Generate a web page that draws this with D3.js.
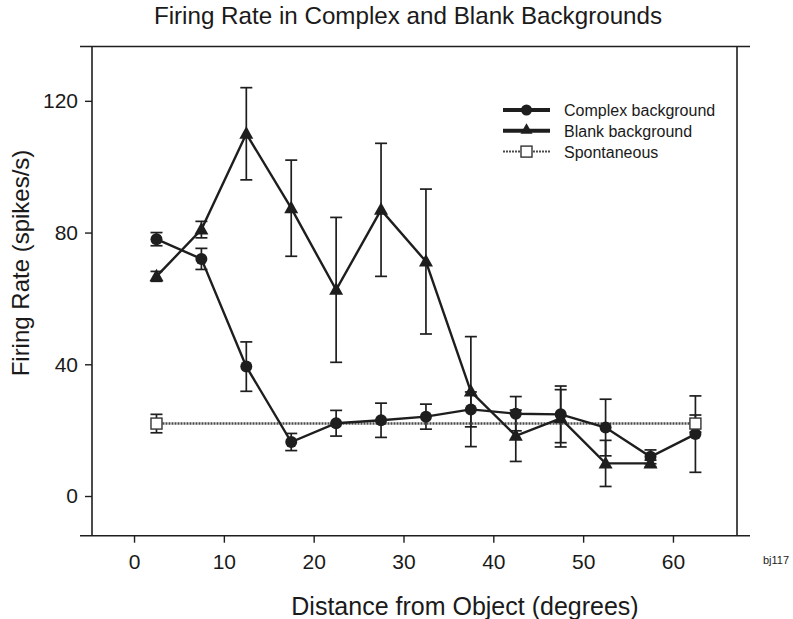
<!DOCTYPE html>
<html>
<head>
<meta charset="utf-8">
<script src="https://cdn.jsdelivr.net/npm/d3@7"></script>
<style>
	body { margin: 0; background: #fff; }
	svg text { font-family: "Liberation Sans", Arial, sans-serif; fill: #1a1a1a; }
</style>
</head>
<body>
<div id="chart"></div>
<script>
// values
var distance = [2.5, 7.5, 12.5, 17.5, 22.5, 27.5, 32.5, 37.5, 42.5, 47.5, 52.5, 57.5, 62.5];
var complexRate = [78.0, 72.0, 39.3, 16.4, 22.1, 23.0, 24.1, 26.3, 25.0, 24.8, 20.8, 11.9, 18.8];
var complexErr  = [2.0, 3.2, 7.5, 2.6, 3.9, 5.2, 3.8, 5.3, 5.2, 8.6, 8.6, 2.1, 11.6];
var blankDistance = [2.5, 7.5, 12.5, 17.5, 22.5, 27.5, 32.5, 37.5, 42.5, 47.5, 52.5, 57.5];
var blankRate = [66.7, 80.9, 110.0, 87.4, 62.6, 86.9, 71.2, 31.7, 18.3, 23.6, 9.9, 9.9];
var blankErr  = [1.5, 2.5, 14.0, 14.6, 22.0, 20.2, 22.0, 16.7, 7.8, 8.7, 7.0, 1.0];
var spontDistance = [2.5, 62.5];
var spontRate = [22.0, 22.0];
var spontErr = [2.8, 2.6];
var xTicks = [0, 10, 20, 30, 40, 50, 60];
var yTicks = [0, 40, 80, 120];
var legendLabels = ["Complex background", "Blank background", "Spontaneous"];

(function(){
var W = 793, H = 619;
var pLeft = 92, pRight = 737, pTop = 46.5, pBottom = 535.7;

var svg = d3.select("#chart").append("svg").attr("width", W).attr("height", H);

var x = d3.scaleLinear().domain([-4.68, 67.13]).range([pLeft, pRight]);
var y = d3.scaleLinear().domain([-12.05, 136.5]).range([pBottom, pTop]);

var ink = "#1e1e1e";
var dotInk = "#4a4a4a";

// frame (horizontal lines run past the vertical ones, as in the original)
var frame = svg.append("g").attr("stroke", ink).attr("stroke-width", 1.6);
frame.append("line").attr("x1", 80).attr("x2", 750).attr("y1", pTop).attr("y2", pTop);
frame.append("line").attr("x1", 80).attr("x2", 750).attr("y1", pBottom).attr("y2", pBottom);
frame.append("line").attr("x1", pLeft).attr("x2", pLeft).attr("y1", pTop).attr("y2", pBottom);
frame.append("line").attr("x1", pRight).attr("x2", pRight).attr("y1", pTop).attr("y2", pBottom);

// axes
var xAxis = svg.append("g").attr("transform", "translate(0," + pBottom + ")")
	.call(d3.axisBottom(x).tickValues(xTicks).tickSize(7).tickPadding(11).tickFormat(d3.format("d")));
var yAxis = svg.append("g").attr("transform", "translate(" + pLeft + ",0)")
	.call(d3.axisLeft(y).tickValues(yTicks).tickSize(7).tickPadding(7).tickFormat(d3.format("d")));
[xAxis, yAxis].forEach(function(a){
	a.select(".domain").remove();
	a.selectAll("line").attr("stroke", ink).attr("stroke-width", 1.4);
	a.selectAll("text").attr("font-size", 21).attr("fill", "#1a1a1a")
		.attr("font-family", "Liberation Sans, Arial, sans-serif");
});

// titles
svg.append("text").attr("x", 408).attr("y", 24).attr("text-anchor", "middle")
	.attr("font-size", 24.2).text("Firing Rate in Complex and Blank Backgrounds");
svg.append("text").attr("x", 465).attr("y", 615).attr("text-anchor", "middle")
	.attr("font-size", 25).text("Distance from Object (degrees)");
svg.append("text").attr("transform", "translate(29,263) rotate(-90)").attr("text-anchor", "middle")
	.attr("font-size", 24).text("Firing Rate (spikes/s)");
svg.append("text").attr("x", 763).attr("y", 564).attr("font-size", 11).attr("fill", "#333").text("bj117");

function pts(xs, ys, es) {
	return xs.map(function(d, i){ return {x: d, y: ys[i], e: es[i]}; });
}
var complexPts = pts(distance, complexRate, complexErr);
var blankPts = pts(blankDistance, blankRate, blankErr);
var spontPts = pts(spontDistance, spontRate, spontErr);

function errorBars(data, g) {
	var cap = 6;
	var eb = g.append("g").attr("stroke", ink).attr("stroke-width", 1.7);
	eb.selectAll(".v").data(data).enter().append("line")
		.attr("x1", function(d){ return x(d.x); }).attr("x2", function(d){ return x(d.x); })
		.attr("y1", function(d){ return y(d.y + d.e); }).attr("y2", function(d){ return y(d.y - d.e); });
	eb.selectAll(".t").data(data).enter().append("line")
		.attr("x1", function(d){ return x(d.x) - cap; }).attr("x2", function(d){ return x(d.x) + cap; })
		.attr("y1", function(d){ return y(d.y + d.e); }).attr("y2", function(d){ return y(d.y + d.e); });
	eb.selectAll(".b").data(data).enter().append("line")
		.attr("x1", function(d){ return x(d.x) - cap; }).attr("x2", function(d){ return x(d.x) + cap; })
		.attr("y1", function(d){ return y(d.y - d.e); }).attr("y2", function(d){ return y(d.y - d.e); });
}

var plot = svg.append("g");
errorBars(spontPts, plot);
errorBars(blankPts, plot);
errorBars(complexPts, plot);

var line = d3.line().x(function(d){ return x(d.x); }).y(function(d){ return y(d.y); });

plot.append("path").datum(spontPts).attr("d", line).attr("fill", "none")
	.attr("stroke", dotInk).attr("stroke-width", 2.6).attr("stroke-dasharray", "2,1");
plot.append("path").datum(blankPts).attr("d", line).attr("fill", "none")
	.attr("stroke", ink).attr("stroke-width", 2.4);
plot.append("path").datum(complexPts).attr("d", line).attr("fill", "none")
	.attr("stroke", ink).attr("stroke-width", 2.4);

var tri = "M0,-7.5L7,5L-7,5Z";

plot.selectAll(".tri").data(blankPts).enter().append("path")
	.attr("d", tri).attr("fill", ink)
	.attr("transform", function(d){ return "translate(" + x(d.x) + "," + y(d.y) + ")"; });
plot.selectAll(".dot").data(complexPts).enter().append("circle")
	.attr("cx", function(d){ return x(d.x); }).attr("cy", function(d){ return y(d.y); })
	.attr("r", 6).attr("fill", ink);
plot.selectAll(".sq").data(spontPts).enter().append("rect")
	.attr("x", function(d){ return x(d.x) - 5.5; }).attr("y", function(d){ return y(d.y) - 5.5; })
	.attr("width", 11).attr("height", 11).attr("fill", "#fff").attr("stroke", "#333").attr("stroke-width", 1.4);

// legend
var legend = svg.append("g").attr("transform", "translate(503,110)");
var rowH = 20.8;
legendLabels.forEach(function(lbl, i){
	var g = legend.append("g").attr("transform", "translate(0," + (i * rowH) + ")");
	if (i < 2) {
		g.append("line").attr("x1", 0).attr("x2", 47).attr("stroke", ink).attr("stroke-width", 4);
	} else {
		g.append("line").attr("x1", 0).attr("x2", 47).attr("stroke", dotInk)
			.attr("stroke-width", 2).attr("stroke-dasharray", "2,1");
	}
	if (i === 0) g.append("circle").attr("cx", 23.5).attr("r", 5.5).attr("fill", ink);
	if (i === 1) g.append("path").attr("d", "M0,-6.5L6,4L-6,4Z").attr("fill", ink).attr("transform", "translate(23.5,-1)");
	if (i === 2) g.append("rect").attr("x", 18).attr("y", -5.5).attr("width", 11).attr("height", 11)
		.attr("fill", "#fff").attr("stroke", "#333").attr("stroke-width", 1.4);
	g.append("text").attr("x", 61).attr("y", 6).attr("font-size", 16).text(lbl);
});
})();
</script>
</body>
</html>
